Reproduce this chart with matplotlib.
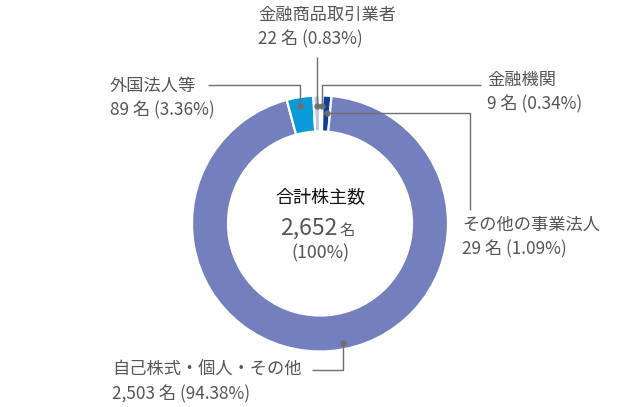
import matplotlib.pyplot as plt

plt.rcParams['font.family'] = ['Noto Sans CJK JP', 'DejaVu Sans']

# データ (時計回り、上から)
categories = ['金融機関', 'その他の事業法人', '自己株式・個人・その他', '外国法人等', '金融商品取引業者']
counts = [9, 29, 2503, 89, 22]
percents = ['0.34%', '1.09%', '94.38%', '3.36%', '0.83%']
count_labels = ['9', '29', '2,503', '89', '22']
total_label = '2,652'
colors = ['#d3e9f7', '#0c3f98', '#7480be', '#0b9ad9', '#c3c5e6']

W, H = 630, 407
GRAY = '#555555'
LINE = '#6e6e6e'


def py(y):
    # ピクセル座標(上から)をデータ座標に変換
    return H - y


fig = plt.figure(figsize=(W / 100, H / 100), dpi=100)
ax = fig.add_axes([0, 0, 1, 1])
ax.set_xlim(0, W)
ax.set_ylim(0, H)
ax.set_aspect('equal')
ax.axis('off')

cx, cy, r = 320, py(223.5), 128
ax.pie(counts, colors=colors, startangle=90, counterclock=False,
       center=(cx, cy), radius=r,
       wedgeprops=dict(width=36, edgecolor='white', linewidth=1.6))
ax.set_xlim(0, W)
ax.set_ylim(0, H)

# 中央テキスト
ax.text(cx, py(197), '合計株主数', ha='center', va='center', fontsize=13, color='#111111')
ax.text(cx + 17, py(228), total_label, ha='right', va='center', fontsize=16.5, color=GRAY)
ax.text(cx + 19, py(230), '名', ha='left', va='center', fontsize=11, color=GRAY)
ax.text(cx, py(253), '(100%)', ha='center', va='center', fontsize=12.8, color=GRAY)

# ラベルと引き出し線: (点, 折れ線の経路, テキスト位置)
layout = {
    '金融機関': ((322, 106), [(322, 85), (481, 85)], (487, 80), 'left'),
    'その他の事業法人': ((327, 113), [(470, 113), (470, 210)], (462, 225), 'left'),
    '自己株式・個人・その他': ((343, 343), [(343, 370), (312, 370)], (112, 370), 'left'),
    '外国法人等': ((300, 106), [(300, 85), (208, 85)], (110, 86), 'left'),
    '金融商品取引業者': ((317, 106), [(317, 57)], (258, 15), 'left'),
}

for name, n, pct in zip(categories, count_labels, percents):
    (dx, dy), path, (tx, ty), ha = layout[name]
    xs = [dx] + [p[0] for p in path]
    ys = [py(dy)] + [py(p[1]) for p in path]
    ax.plot(xs, ys, color=LINE, linewidth=1.0, solid_capstyle='butt')
    ax.plot(dx, py(dy), 'o', color=LINE, markersize=3.5)
    ax.text(tx, py(ty), name, ha=ha, va='center', fontsize=12.4, color=GRAY)
    ax.text(tx, py(ty + 24), f'{n} 名 ({pct})', ha=ha, va='center', fontsize=12.4, color=GRAY)

fig.savefig('out.png', dpi=100)
